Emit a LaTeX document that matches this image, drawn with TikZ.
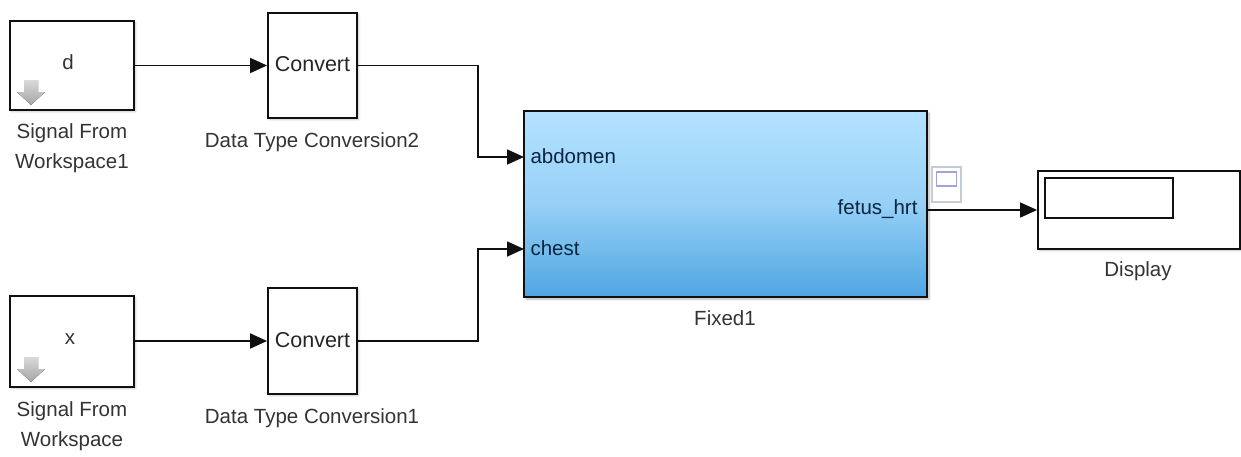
\documentclass[tikz,border=0pt]{standalone}
\usepackage{fontspec}
\setmainfont{Liberation Sans}
\usetikzlibrary{arrows.meta,shadows.blur}
\definecolor{lineblk}{HTML}{101010}
\definecolor{subtopblue}{HTML}{B4E2FF}
\definecolor{subbotblue}{HTML}{4FA6E2}
\definecolor{subtext}{HTML}{0B2540}
\definecolor{badgeline}{HTML}{C4CCD4}
\tikzset{
  blk/.style={draw=lineblk, line width=1.8pt, fill=white, blur shadow={shadow xshift=1.5pt, shadow yshift=-1.5pt, shadow blur steps=4, shadow opacity=25}},
  lbl/.style={font=\fontsize{20.5}{30}\selectfont, text=black!80, align=center},
  cvt/.style={font=\fontsize{21.5}{26}\selectfont, text=black!85},
  sig/.style={line width=1.7pt, draw=lineblk, -{Triangle[length=17pt,width=15pt]}},
  porttxt/.style={font=\fontsize{20.5}{26}\selectfont, text=subtext}
}
\begin{document}
\begin{tikzpicture}[x=1pt,y=-1pt]
\useasboundingbox (0,0) rectangle (1241,456);

% source blocks
\node[blk, minimum width=124pt, minimum height=89pt, inner sep=0pt] (sw1) at (72,65.5) {};
\node[blk, minimum width=124pt, minimum height=91pt, inner sep=0pt] (sw0) at (72,341.5) {};
\node[lbl] at (68,62) {d};
\node[lbl] at (70,339) {x};
\foreach \yy in {80,357}{
  \fill[top color=black!15, bottom color=black!35]
    (24,\yy) -- (38,\yy) -- (38,\yy+12) -- (45,\yy+12) -- (31,\yy+25) -- (17,\yy+12) -- (24,\yy+12) -- cycle;
}
\node[lbl] (sw1lbl) at (72,148) {Signal From\\Workspace1};
\node[lbl] (sw0lbl) at (72,426) {Signal From\\Workspace};

% conversion blocks
\node[blk, minimum width=89pt, minimum height=105pt, inner sep=0pt] (cv2) at (312.5,65.5) {};
\node[blk, minimum width=89pt, minimum height=106pt, inner sep=0pt] (cv1) at (312.5,341) {};
\node[cvt] at (312.5,64) {Convert};
\node[cvt] at (312.5,340) {Convert};
\node[lbl] (cv2lbl) at (312,142) {Data Type Conversion2};
\node[lbl] (cv1lbl) at (312,418) {Data Type Conversion1};

% subsystem block
\node[draw=lineblk, line width=1.8pt, top color=subtopblue, bottom color=subbotblue, middle color=subtopblue!70!subbotblue,
      minimum width=403pt, minimum height=186pt, inner sep=0pt,
      blur shadow={shadow xshift=2pt, shadow yshift=-2pt, shadow blur steps=6, shadow opacity=30}] (fx) at (725.5,204) {};
\node[porttxt, anchor=west] at (527,156) {abdomen};
\node[porttxt, anchor=west] at (527,248) {chest};
\node[porttxt, anchor=east] at (921,209) {fetus\_hrt};
\node[lbl] (fxlbl) at (725,318) {Fixed1};
\coordinate (inA) at (524,157);
\coordinate (inB) at (524,249);
\coordinate (outA) at (927,210);

% output badge
\node[draw=badgeline, line width=1.2pt, minimum width=29pt, minimum height=35pt, inner sep=0pt] (badge) at (946.5,184.5) {};
\node[draw=badgeline!80!blue, fill=white, line width=1.2pt, minimum width=20pt, minimum height=14pt, inner sep=0pt] (badgein) at (946.5,179) {};

% display block
\node[blk, minimum width=202pt, minimum height=78pt, inner sep=0pt] (disp) at (1139,210) {};
\node[draw=lineblk, line width=1.8pt, fill=white, minimum width=128pt, minimum height=40pt, inner sep=0pt] (dispwin) at (1109,198) {};
\node[lbl] (displbl) at (1138,271) {Display};

% signal lines
\draw[sig] (sw1.east) -- (cv2.west);
\draw[sig] (sw0.east |- cv1.west) -- (cv1.west);
\draw[sig] (cv2.east) -- (478,65.5) |- (inA);
\draw[sig] (cv1.east) -- (478,341) |- (inB);
\draw[sig] (outA) -- (disp.west);
\end{tikzpicture}
\end{document}
